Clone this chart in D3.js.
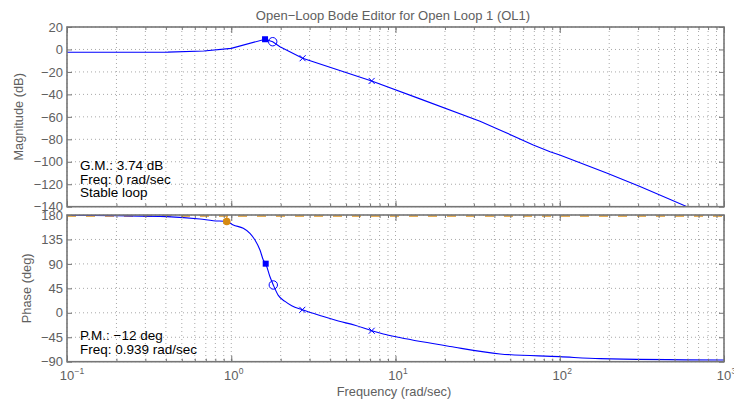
<!DOCTYPE html>
<html><head><meta charset="utf-8">
<script src="https://cdn.jsdelivr.net/npm/d3@7"></script>
<style>body{margin:0;background:#fff}svg{display:block}text{font-family:"Liberation Sans",Arial,Helvetica,sans-serif}</style>
</head><body><svg id="c" width="734" height="402"></svg>
<script>
const title = "Open\u2212Loop Bode Editor for Open Loop 1 (OL1)";
const xLabel = "Frequency (rad/sec)";
const magLabel = "Magnitude (dB)";
const phaseLabel = "Phase (deg)";
const xTickExponents = [-1, 0, 1, 2, 3];
const magTicks = [20, 0, -20, -40, -60, -80, -100, -120, -140];
const phaseTicks = [180, 135, 90, 45, 0, -45, -90];

const magFreq = [0.1, 0.41, 0.68, 1.0, 1.606, 1.788, 1.98, 2.72, 7.16, 14.1, 32.7, 45.3, 69, 87.3, 100, 193, 308, 596];
const magDb   = [-2.5, -2.4, -1.4, 1.0, 9.1, 6.9, 2.5, -7.8, -28, -44, -64, -73, -85, -91, -94, -110, -122, -140];

const phaseFreq = [0.1, 0.2, 0.406, 0.6455, 0.777, 0.939, 1.029, 1.184, 1.30, 1.395, 1.496, 1.567, 1.621, 1.721, 1.803, 1.934, 2.125, 2.334, 2.708, 3.553, 4.485, 5.67, 7.165, 8.43, 10.6, 21.5, 43.3, 100, 176, 1000];
const phaseDeg  = [179.5, 178.6, 177, 172.6, 169.5, 168, 161.6, 155.5, 146.3, 134, 115.6, 97.2, 90.4, 66.4, 51.2, 32, 21, 13, 5.5, -6, -15, -23, -33, -39, -45.5, -62, -75.7, -80.7, -84.4, -87];

const magMarkerFreq = [1.606, 1.788, 2.72, 7.16];
const magMarkerVal  = [9.1, 6.9, -7.8, -28];
const phaseMarkerFreq = [1.621, 1.803, 2.708, 7.165];
const phaseMarkerVal  = [90.4, 51.2, 5.5, -33];
const markerTypes = ["square", "circle", "x", "x"];

const magInfo = ["G.M.: 3.74 dB", "Freq: 0 rad/sec", "Stable loop"];
const phaseInfo = ["P.M.: \u221212 deg", "Freq: 0.939 rad/sec"];
const pmFreq = 0.939, pmPhase = 168, refPhase = 180;

const svg = d3.select("#c");
const L = 67, R = 724;
const x = d3.scaleLog().domain([0.1, 1000]).range([L, R]);
const yMag = d3.scaleLinear().domain([-140, 20]).range([206.7, 27]);
const yPh = d3.scaleLinear().domain([-90, 180]).range([361.7, 215]);

const minor = [];
for (let d = -1; d <= 2; d++) for (let k = 1; k <= 9; k++) minor.push(k * Math.pow(10, d));
minor.push(1000);
const majors = xTickExponents.map(e => Math.pow(10, e));

const frameC = "#767676", gridC = "#a8a8a8", labC = "#606060";
const FONT = '"Liberation Sans",Arial,Helvetica,sans-serif';

function panel(y, yTicks, id) {
  const [b, t] = y.range();
  const g = svg.append("g");
  svg.append("clipPath").attr("id", id).append("rect").attr("x", L).attr("y", t).attr("width", R - L).attr("height", b - t);
  g.append("g").selectAll("line").data(minor).join("line")
    .attr("x1", d => x(d)).attr("x2", d => x(d)).attr("y1", t).attr("y2", b)
    .attr("stroke", gridC).attr("stroke-width", 1).attr("stroke-dasharray", "1,3");
  g.append("g").selectAll("line").data(yTicks).join("line")
    .attr("x1", L).attr("x2", R).attr("y1", d => y(d)).attr("y2", d => y(d))
    .attr("stroke", gridC).attr("stroke-width", 1).attr("stroke-dasharray", "1,3");
  return g;
}

function axesFrame(y, yTicks) {
  const [b, t] = y.range();
  const g = svg.append("g");
  const fmt = d3.format("d");
  g.append("g").attr("transform", `translate(0,${b})`).call(d3.axisBottom(x).tickValues(minor).tickSize(-3).tickFormat(""));
  g.append("g").attr("transform", `translate(0,${t})`).call(d3.axisTop(x).tickValues(minor).tickSize(-3).tickFormat(""));
  g.append("g").attr("transform", `translate(0,${b})`).call(d3.axisBottom(x).tickValues(majors).tickSize(-6).tickFormat(""));
  g.append("g").attr("transform", `translate(0,${t})`).call(d3.axisTop(x).tickValues(majors).tickSize(-6).tickFormat(""));
  g.append("g").attr("transform", `translate(${L},0)`).call(d3.axisLeft(y).tickValues(yTicks).tickSize(-5).tickPadding(4).tickFormat(fmt));
  g.append("g").attr("transform", `translate(${R},0)`).call(d3.axisRight(y).tickValues(yTicks).tickSize(-5).tickFormat(""));
  g.selectAll(".domain").remove();
  g.selectAll(".tick line").attr("stroke", frameC).attr("stroke-width", 1);
  g.selectAll(".tick text").attr("fill", labC).attr("font-size", 13).style("font-family", FONT);
  g.append("rect").attr("x", L).attr("y", t).attr("width", R - L).attr("height", b - t)
    .attr("fill", "none").attr("stroke", frameC).attr("stroke-width", 1.6);
}

function markers(g, fs, vs, y) {
  fs.forEach((f, i) => {
    const cx = x(f), cy = y(vs[i]), tp = markerTypes[i];
    if (tp === "square") {
      g.append("rect").attr("x", cx - 3).attr("y", cy - 3).attr("width", 6).attr("height", 6).attr("fill", "#0000ff");
    } else if (tp === "circle") {
      g.append("circle").attr("cx", cx).attr("cy", cy).attr("r", 4.2).attr("fill", "none").attr("stroke", "#0000ff").attr("stroke-width", 1);
    } else {
      g.append("path").attr("d", `M${cx-3},${cy-3}L${cx+3},${cy+3}M${cx-3},${cy+3}L${cx+3},${cy-3}`).attr("stroke", "#0000ff").attr("stroke-width", 1);
    }
  });
}

// Magnitude panel
panel(yMag, magTicks, "clipMag");
const gm = svg.append("g").attr("clip-path", "url(#clipMag)");
gm.append("path").datum(magFreq.map((f, i) => [f, magDb[i]]))
  .attr("d", d3.line().x(d => x(d[0])).y(d => yMag(d[1])))
  .attr("fill", "none").attr("stroke", "#0000ff").attr("stroke-width", 1.1);
markers(gm, magMarkerFreq, magMarkerVal, yMag);
axesFrame(yMag, magTicks);

// Phase panel
panel(yPh, phaseTicks, "clipPh");
const gp = svg.append("g").attr("clip-path", "url(#clipPh)");
gp.append("line").attr("x1", L).attr("x2", R).attr("y1", yPh(refPhase) + 1).attr("y2", yPh(refPhase) + 1)
  .attr("stroke", "#e3a23c").attr("stroke-width", 2.2).attr("stroke-dasharray", "9,10").attr("opacity", 0.85);
gp.append("line").attr("x1", x(pmFreq)).attr("x2", x(pmFreq)).attr("y1", yPh(refPhase)).attr("y2", yPh(pmPhase))
  .attr("stroke", "#e3a23c").attr("stroke-width", 1.5);
gp.append("path").datum(phaseFreq.map((f, i) => [f, phaseDeg[i]]))
  .attr("d", d3.line().x(d => x(d[0])).y(d => yPh(d[1])).curve(d3.curveMonotoneX))
  .attr("fill", "none").attr("stroke", "#0000ff").attr("stroke-width", 1.1);
markers(gp, phaseMarkerFreq, phaseMarkerVal, yPh);
gp.append("circle").attr("cx", x(pmFreq)).attr("cy", yPh(pmPhase)).attr("r", 3.8).attr("fill", "#d58a12");
axesFrame(yPh, phaseTicks);

// x tick labels (10^n)
const xl = svg.append("g").attr("fill", labC);
xTickExponents.forEach(e => {
  const px = x(Math.pow(10, e));
  xl.append("text").attr("x", px).attr("y", 380).attr("text-anchor", "middle").attr("font-size", 13).text("10");
  xl.append("text").attr("x", px + 7.5).attr("y", 374).attr("font-size", 8.5).text(e < 0 ? "\u2212" + (-e) : String(e));
});

// titles / labels
svg.append("text").attr("x", 393).attr("y", 19.5).attr("text-anchor", "middle").attr("font-size", 13).attr("fill", labC).text(title);
svg.append("text").attr("x", 394).attr("y", 396).attr("text-anchor", "middle").attr("font-size", 12.8).attr("fill", labC).text(xLabel);
svg.append("text").attr("transform", `translate(23,${(27 + 206.7) / 2}) rotate(-90)`).attr("text-anchor", "middle").attr("font-size", 12.8).attr("fill", labC).text(magLabel);
svg.append("text").attr("transform", `translate(31,${(215 + 361.7) / 2}) rotate(-90)`).attr("text-anchor", "middle").attr("font-size", 12.8).attr("fill", labC).text(phaseLabel);

// info texts
magInfo.forEach((s, i) => svg.append("text").attr("x", 80).attr("y", 170 + i * 13.7).attr("font-size", 13.5).attr("fill", "#000").text(s));
phaseInfo.forEach((s, i) => svg.append("text").attr("x", 80).attr("y", 340 + i * 13.7).attr("font-size", 13.5).attr("fill", "#000").text(s));
</script></body></html>
